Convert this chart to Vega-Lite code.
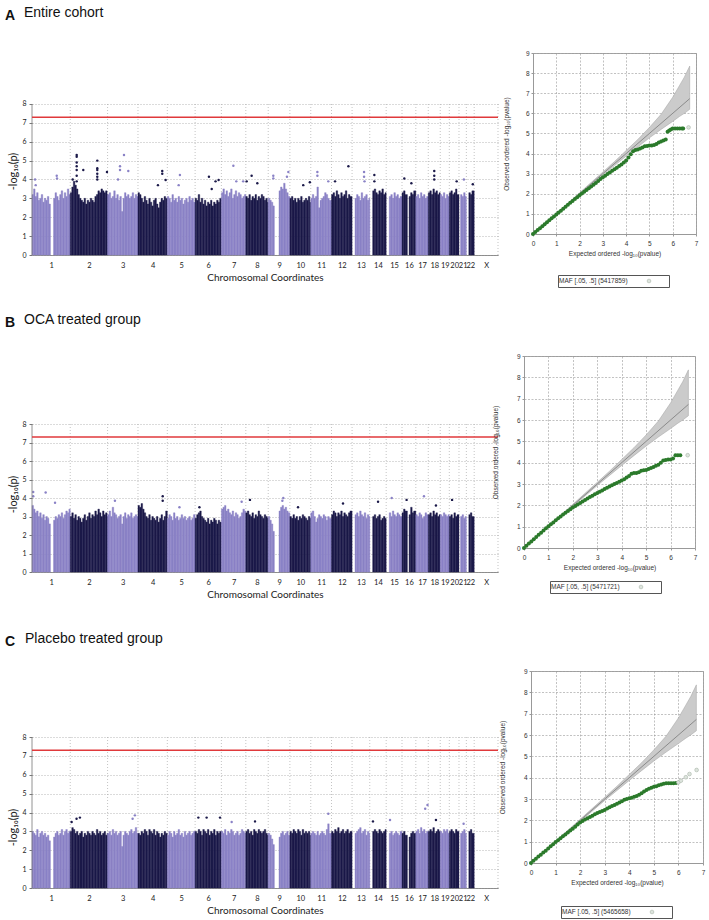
{
"$schema":"https://vega.github.io/schema/vega-lite/v6.json",
"background":"white",
"padding":{"left":5,"top":5,"right":2,"bottom":2},
"config":{"view":{"stroke":null},"font":"Liberation Sans","axis":{"labelOverlap":false}},
"datasets":{
"chr":[{"e":249},{"e":492},{"e":690},{"e":881},{"e":1062},{"e":1233},{"e":1392},{"e":1538},{"e":1679},{"e":1815},{"e":1950},{"e":2084},{"e":2199},{"e":2306},{"e":2409},{"e":2499},{"e":2580},{"e":2658},{"e":2717},{"e":2780},{"e":2828},{"e":2879},{"e":3034}],
"bins":[
{"c":1,"s":0,"e":10,"A":3.2,"B":3.6,"C":3.0},{"c":1,"s":10,"e":20,"A":3.5,"B":3.4,"C":2.9},{"c":1,"s":20,"e":30,"A":3.1,"B":3.2,"C":2.8},{"c":1,"s":30,"e":40,"A":3.3,"B":3.3,"C":3.1},{"c":1,"s":40,"e":50,"A":2.9,"B":3.0,"C":2.7},{"c":1,"s":50,"e":60,"A":3.0,"B":3.2,"C":2.9},{"c":1,"s":60,"e":70,"A":3.2,"B":2.9,"C":3.0},{"c":1,"s":70,"e":80,"A":2.8,"B":3.1,"C":2.8},{"c":1,"s":80,"e":90,"A":3.0,"B":2.8,"C":2.9},{"c":1,"s":90,"e":100,"A":2.9,"B":3.0,"C":2.7},{"c":1,"s":100,"e":110,"A":3.1,"B":2.9,"C":2.8},{"c":1,"s":110,"e":120,"A":2.7,"B":2.6,"C":2.5},{"c":1,"s":140,"e":150,"A":3.0,"B":2.8,"C":2.7},{"c":1,"s":150,"e":160,"A":3.3,"B":3.0,"C":2.9},{"c":1,"s":160,"e":170,"A":3.1,"B":2.9,"C":3.0},{"c":1,"s":170,"e":180,"A":2.9,"B":3.1,"C":2.8},{"c":1,"s":180,"e":190,"A":3.2,"B":3.0,"C":2.9},{"c":1,"s":190,"e":200,"A":3.4,"B":3.2,"C":3.1},{"c":1,"s":200,"e":210,"A":3.0,"B":2.9,"C":2.8},{"c":1,"s":210,"e":220,"A":3.3,"B":3.1,"C":3.0},{"c":1,"s":220,"e":230,"A":3.1,"B":3.3,"C":3.1},{"c":1,"s":230,"e":240,"A":3.5,"B":3.2,"C":2.9},{"c":1,"s":240,"e":249,"A":3.2,"B":3.4,"C":3.0},
{"c":2,"s":249,"e":259,"A":3.3,"B":3.0,"C":3.0},{"c":2,"s":259,"e":269,"A":3.6,"B":3.2,"C":3.2},{"c":2,"s":269,"e":279,"A":3.9,"B":2.9,"C":3.1},{"c":2,"s":279,"e":289,"A":3.7,"B":3.1,"C":2.9},{"c":2,"s":289,"e":299,"A":3.5,"B":2.8,"C":3.0},{"c":2,"s":299,"e":309,"A":3.2,"B":3.0,"C":2.8},{"c":2,"s":309,"e":319,"A":3.0,"B":2.9,"C":2.9},{"c":2,"s":319,"e":329,"A":2.9,"B":2.7,"C":3.0},{"c":2,"s":329,"e":339,"A":2.8,"B":2.9,"C":2.7},{"c":2,"s":339,"e":349,"A":3.0,"B":3.1,"C":2.9},{"c":2,"s":349,"e":359,"A":2.7,"B":2.8,"C":2.8},{"c":2,"s":359,"e":369,"A":2.9,"B":3.0,"C":3.0},{"c":2,"s":369,"e":379,"A":2.8,"B":3.2,"C":2.9},{"c":2,"s":379,"e":389,"A":3.0,"B":2.9,"C":2.8},{"c":2,"s":389,"e":399,"A":2.9,"B":3.1,"C":3.0},{"c":2,"s":399,"e":409,"A":2.8,"B":3.0,"C":2.9},{"c":2,"s":409,"e":419,"A":3.1,"B":3.3,"C":2.8},{"c":2,"s":419,"e":429,"A":3.2,"B":3.1,"C":3.1},{"c":2,"s":429,"e":439,"A":3.4,"B":3.4,"C":2.9},{"c":2,"s":439,"e":449,"A":3.3,"B":3.2,"C":3.0},{"c":2,"s":449,"e":459,"A":3.5,"B":3.0,"C":2.8},{"c":2,"s":459,"e":469,"A":3.4,"B":3.3,"C":2.9},{"c":2,"s":469,"e":479,"A":3.3,"B":3.1,"C":3.0},{"c":2,"s":479,"e":489,"A":3.4,"B":3.2,"C":2.8},{"c":2,"s":489,"e":492,"A":3.2,"B":3.0,"C":2.9},
{"c":3,"s":492,"e":502,"A":3.2,"B":3.1,"C":2.9},{"c":3,"s":502,"e":512,"A":3.3,"B":3.3,"C":3.0},{"c":3,"s":512,"e":522,"A":3.0,"B":3.0,"C":2.8},{"c":3,"s":522,"e":532,"A":3.1,"B":3.5,"C":3.1},{"c":3,"s":532,"e":542,"A":3.4,"B":3.2,"C":2.9},{"c":3,"s":542,"e":552,"A":3.0,"B":3.1,"C":3.0},{"c":3,"s":552,"e":562,"A":3.2,"B":2.9,"C":2.8},{"c":3,"s":562,"e":572,"A":2.9,"B":3.0,"C":2.9},{"c":3,"s":572,"e":582,"A":3.1,"B":3.1,"C":3.0},{"c":3,"s":582,"e":592,"A":2.3,"B":2.6,"C":2.2},{"c":3,"s":592,"e":602,"A":3.0,"B":3.0,"C":2.8},{"c":3,"s":602,"e":612,"A":3.3,"B":3.2,"C":3.0},{"c":3,"s":612,"e":622,"A":3.1,"B":2.9,"C":2.9},{"c":3,"s":622,"e":632,"A":3.2,"B":3.1,"C":2.8},{"c":3,"s":632,"e":642,"A":3.0,"B":3.0,"C":3.0},{"c":3,"s":642,"e":652,"A":3.1,"B":3.2,"C":3.1},{"c":3,"s":652,"e":662,"A":3.3,"B":2.9,"C":2.9},{"c":3,"s":662,"e":672,"A":3.0,"B":3.0,"C":3.0},{"c":3,"s":672,"e":682,"A":3.2,"B":3.1,"C":3.2},{"c":3,"s":682,"e":690,"A":3.1,"B":3.0,"C":2.9},
{"c":4,"s":690,"e":700,"A":3.3,"B":3.6,"C":2.9},{"c":4,"s":700,"e":710,"A":3.2,"B":3.5,"C":2.8},{"c":4,"s":710,"e":720,"A":3.0,"B":3.7,"C":3.0},{"c":4,"s":720,"e":730,"A":2.8,"B":3.4,"C":2.9},{"c":4,"s":730,"e":740,"A":3.1,"B":3.2,"C":3.1},{"c":4,"s":740,"e":750,"A":2.9,"B":3.0,"C":3.0},{"c":4,"s":750,"e":760,"A":2.7,"B":2.9,"C":2.8},{"c":4,"s":760,"e":770,"A":3.0,"B":3.1,"C":3.1},{"c":4,"s":770,"e":780,"A":2.8,"B":2.8,"C":3.0},{"c":4,"s":780,"e":790,"A":2.6,"B":3.0,"C":2.9},{"c":4,"s":790,"e":800,"A":2.9,"B":2.9,"C":3.1},{"c":4,"s":800,"e":810,"A":3.0,"B":2.8,"C":2.8},{"c":4,"s":810,"e":820,"A":2.7,"B":3.0,"C":3.0},{"c":4,"s":820,"e":830,"A":2.5,"B":2.7,"C":2.9},{"c":4,"s":830,"e":840,"A":2.8,"B":2.9,"C":2.7},{"c":4,"s":840,"e":850,"A":3.0,"B":3.1,"C":2.9},{"c":4,"s":850,"e":860,"A":2.9,"B":2.8,"C":2.8},{"c":4,"s":860,"e":870,"A":3.1,"B":3.0,"C":3.0},{"c":4,"s":870,"e":881,"A":3.0,"B":3.3,"C":2.9},
{"c":5,"s":881,"e":891,"A":3.1,"B":2.9,"C":2.8},{"c":5,"s":891,"e":901,"A":3.0,"B":3.1,"C":3.0},{"c":5,"s":901,"e":911,"A":2.8,"B":3.0,"C":2.9},{"c":5,"s":911,"e":921,"A":3.2,"B":2.8,"C":2.7},{"c":5,"s":921,"e":931,"A":2.9,"B":3.2,"C":3.0},{"c":5,"s":931,"e":941,"A":3.0,"B":2.9,"C":2.8},{"c":5,"s":941,"e":951,"A":2.8,"B":3.0,"C":2.9},{"c":5,"s":951,"e":961,"A":3.1,"B":2.8,"C":3.1},{"c":5,"s":961,"e":971,"A":2.9,"B":2.9,"C":2.8},{"c":5,"s":971,"e":981,"A":3.0,"B":3.1,"C":2.9},{"c":5,"s":981,"e":991,"A":2.7,"B":2.9,"C":2.7},{"c":5,"s":991,"e":1001,"A":2.9,"B":3.0,"C":3.0},{"c":5,"s":1001,"e":1011,"A":3.0,"B":2.8,"C":2.8},{"c":5,"s":1011,"e":1021,"A":2.8,"B":2.9,"C":2.9},{"c":5,"s":1021,"e":1031,"A":3.1,"B":3.0,"C":3.0},{"c":5,"s":1031,"e":1041,"A":2.9,"B":2.8,"C":2.8},{"c":5,"s":1041,"e":1051,"A":3.0,"B":2.9,"C":2.9},{"c":5,"s":1051,"e":1062,"A":2.8,"B":3.1,"C":3.0},
{"c":6,"s":1062,"e":1072,"A":3.0,"B":2.9,"C":3.0},{"c":6,"s":1072,"e":1082,"A":2.9,"B":3.1,"C":2.9},{"c":6,"s":1082,"e":1092,"A":3.2,"B":3.2,"C":3.1},{"c":6,"s":1092,"e":1102,"A":2.8,"B":3.3,"C":3.0},{"c":6,"s":1102,"e":1112,"A":3.0,"B":3.0,"C":2.8},{"c":6,"s":1112,"e":1122,"A":2.7,"B":2.9,"C":3.1},{"c":6,"s":1122,"e":1132,"A":2.9,"B":2.8,"C":3.0},{"c":6,"s":1132,"e":1142,"A":2.6,"B":2.7,"C":2.9},{"c":6,"s":1142,"e":1152,"A":2.8,"B":2.9,"C":3.1},{"c":6,"s":1152,"e":1162,"A":2.7,"B":2.6,"C":2.8},{"c":6,"s":1162,"e":1172,"A":2.9,"B":2.8,"C":3.0},{"c":6,"s":1172,"e":1182,"A":2.6,"B":2.7,"C":2.9},{"c":6,"s":1182,"e":1192,"A":2.8,"B":2.9,"C":3.1},{"c":6,"s":1192,"e":1202,"A":2.7,"B":2.8,"C":2.8},{"c":6,"s":1202,"e":1212,"A":2.9,"B":2.6,"C":3.0},{"c":6,"s":1212,"e":1222,"A":2.8,"B":2.8,"C":2.9},{"c":6,"s":1222,"e":1233,"A":3.0,"B":2.7,"C":3.0},
{"c":7,"s":1233,"e":1243,"A":3.3,"B":3.4,"C":3.0},{"c":7,"s":1243,"e":1253,"A":3.5,"B":3.5,"C":2.9},{"c":7,"s":1253,"e":1263,"A":3.2,"B":3.6,"C":3.1},{"c":7,"s":1263,"e":1273,"A":3.4,"B":3.3,"C":2.8},{"c":7,"s":1273,"e":1283,"A":3.1,"B":3.4,"C":3.0},{"c":7,"s":1283,"e":1293,"A":3.3,"B":3.2,"C":2.9},{"c":7,"s":1293,"e":1303,"A":3.5,"B":3.1,"C":3.1},{"c":7,"s":1303,"e":1313,"A":3.0,"B":3.3,"C":3.0},{"c":7,"s":1313,"e":1323,"A":3.2,"B":3.0,"C":2.8},{"c":7,"s":1323,"e":1333,"A":3.4,"B":3.2,"C":2.9},{"c":7,"s":1333,"e":1343,"A":3.1,"B":3.1,"C":3.0},{"c":7,"s":1343,"e":1353,"A":3.3,"B":2.9,"C":2.8},{"c":7,"s":1353,"e":1363,"A":3.2,"B":3.0,"C":2.9},{"c":7,"s":1363,"e":1373,"A":3.0,"B":3.2,"C":3.1},{"c":7,"s":1373,"e":1383,"A":3.1,"B":3.4,"C":3.0},{"c":7,"s":1383,"e":1392,"A":3.2,"B":3.3,"C":2.9},
{"c":8,"s":1392,"e":1402,"A":3.1,"B":3.2,"C":3.0},{"c":8,"s":1402,"e":1412,"A":3.0,"B":3.3,"C":3.1},{"c":8,"s":1412,"e":1422,"A":3.2,"B":3.1,"C":2.9},{"c":8,"s":1422,"e":1432,"A":2.9,"B":3.0,"C":3.0},{"c":8,"s":1432,"e":1442,"A":3.1,"B":3.2,"C":2.8},{"c":8,"s":1442,"e":1452,"A":3.0,"B":2.9,"C":3.1},{"c":8,"s":1452,"e":1462,"A":3.2,"B":3.1,"C":3.0},{"c":8,"s":1462,"e":1472,"A":2.9,"B":3.0,"C":2.9},{"c":8,"s":1472,"e":1482,"A":3.1,"B":3.3,"C":3.1},{"c":8,"s":1482,"e":1492,"A":3.0,"B":3.1,"C":3.0},{"c":8,"s":1492,"e":1502,"A":3.2,"B":3.0,"C":2.9},{"c":8,"s":1502,"e":1512,"A":3.1,"B":2.9,"C":3.0},{"c":8,"s":1512,"e":1522,"A":2.9,"B":3.1,"C":3.1},{"c":8,"s":1522,"e":1532,"A":3.0,"B":3.0,"C":2.9},{"c":8,"s":1532,"e":1538,"A":2.8,"B":2.9,"C":2.8},
{"c":9,"s":1538,"e":1548,"A":3.0,"B":3.0,"C":2.9},{"c":9,"s":1548,"e":1558,"A":2.9,"B":2.8,"C":2.8},{"c":9,"s":1558,"e":1568,"A":2.8,"B":2.6,"C":2.6},{"c":9,"s":1568,"e":1578,"A":2.6,"B":2.2,"C":2.3},{"c":9,"s":1608,"e":1618,"A":3.4,"B":3.3,"C":2.7},{"c":9,"s":1618,"e":1628,"A":3.6,"B":3.5,"C":2.9},{"c":9,"s":1628,"e":1638,"A":3.5,"B":3.6,"C":3.0},{"c":9,"s":1638,"e":1648,"A":3.8,"B":3.4,"C":2.8},{"c":9,"s":1648,"e":1658,"A":3.5,"B":3.5,"C":2.9},{"c":9,"s":1658,"e":1668,"A":3.3,"B":3.3,"C":3.0},{"c":9,"s":1668,"e":1679,"A":3.1,"B":3.2,"C":2.8},
{"c":10,"s":1679,"e":1689,"A":3.0,"B":3.0,"C":3.0},{"c":10,"s":1689,"e":1699,"A":3.1,"B":2.9,"C":2.9},{"c":10,"s":1699,"e":1709,"A":2.9,"B":3.1,"C":3.1},{"c":10,"s":1709,"e":1719,"A":3.0,"B":2.9,"C":3.0},{"c":10,"s":1719,"e":1729,"A":2.8,"B":3.0,"C":2.9},{"c":10,"s":1729,"e":1739,"A":3.0,"B":2.8,"C":3.1},{"c":10,"s":1739,"e":1749,"A":2.9,"B":3.0,"C":3.0},{"c":10,"s":1749,"e":1759,"A":3.1,"B":2.9,"C":2.8},{"c":10,"s":1759,"e":1769,"A":2.8,"B":3.1,"C":3.1},{"c":10,"s":1769,"e":1779,"A":2.9,"B":3.0,"C":2.9},{"c":10,"s":1779,"e":1789,"A":3.0,"B":2.9,"C":3.0},{"c":10,"s":1789,"e":1799,"A":2.9,"B":2.8,"C":2.9},{"c":10,"s":1799,"e":1809,"A":3.1,"B":3.0,"C":3.0},{"c":10,"s":1809,"e":1815,"A":2.8,"B":2.9,"C":2.8},
{"c":11,"s":1815,"e":1825,"A":3.0,"B":3.2,"C":2.9},{"c":11,"s":1825,"e":1835,"A":3.2,"B":3.3,"C":3.0},{"c":11,"s":1835,"e":1845,"A":3.0,"B":3.0,"C":2.9},{"c":11,"s":1845,"e":1855,"A":3.1,"B":2.7,"C":2.8},{"c":11,"s":1855,"e":1865,"A":3.6,"B":2.9,"C":3.0},{"c":11,"s":1865,"e":1875,"A":2.5,"B":3.1,"C":2.8},{"c":11,"s":1875,"e":1885,"A":2.9,"B":3.0,"C":2.9},{"c":11,"s":1885,"e":1895,"A":3.0,"B":2.9,"C":3.0},{"c":11,"s":1895,"e":1905,"A":3.1,"B":3.1,"C":2.9},{"c":11,"s":1905,"e":1915,"A":3.3,"B":3.0,"C":2.8},{"c":11,"s":1915,"e":1925,"A":3.2,"B":2.8,"C":3.1},{"c":11,"s":1925,"e":1935,"A":3.0,"B":3.0,"C":3.4},{"c":11,"s":1935,"e":1950,"A":2.9,"B":2.9,"C":2.9},
{"c":12,"s":1950,"e":1960,"A":3.2,"B":3.1,"C":3.0},{"c":12,"s":1960,"e":1970,"A":3.3,"B":3.3,"C":2.9},{"c":12,"s":1970,"e":1980,"A":3.1,"B":3.2,"C":3.1},{"c":12,"s":1980,"e":1990,"A":3.4,"B":3.0,"C":3.0},{"c":12,"s":1990,"e":2000,"A":3.2,"B":3.2,"C":3.2},{"c":12,"s":2000,"e":2010,"A":3.0,"B":3.1,"C":2.9},{"c":12,"s":2010,"e":2020,"A":3.3,"B":3.3,"C":3.0},{"c":12,"s":2020,"e":2030,"A":3.1,"B":3.0,"C":3.1},{"c":12,"s":2030,"e":2040,"A":3.2,"B":3.2,"C":2.9},{"c":12,"s":2040,"e":2050,"A":3.4,"B":3.1,"C":3.0},{"c":12,"s":2050,"e":2060,"A":3.0,"B":3.0,"C":3.1},{"c":12,"s":2060,"e":2070,"A":3.2,"B":3.2,"C":2.9},{"c":12,"s":2070,"e":2084,"A":3.1,"B":3.3,"C":3.0},
{"c":13,"s":2103,"e":2113,"A":3.0,"B":3.1,"C":2.9},{"c":13,"s":2113,"e":2123,"A":3.2,"B":3.2,"C":3.0},{"c":13,"s":2123,"e":2133,"A":3.1,"B":3.0,"C":3.1},{"c":13,"s":2133,"e":2143,"A":2.9,"B":3.3,"C":3.2},{"c":13,"s":2143,"e":2153,"A":3.3,"B":3.1,"C":2.9},{"c":13,"s":2153,"e":2163,"A":3.0,"B":3.0,"C":3.0},{"c":13,"s":2163,"e":2173,"A":3.1,"B":3.2,"C":3.1},{"c":13,"s":2173,"e":2183,"A":3.2,"B":2.9,"C":2.8},{"c":13,"s":2183,"e":2193,"A":2.9,"B":3.1,"C":3.0},{"c":13,"s":2193,"e":2199,"A":3.0,"B":3.0,"C":2.9},
{"c":14,"s":2218,"e":2228,"A":3.4,"B":3.0,"C":3.0},{"c":14,"s":2228,"e":2238,"A":3.5,"B":3.1,"C":3.1},{"c":14,"s":2238,"e":2248,"A":3.3,"B":2.9,"C":3.0},{"c":14,"s":2248,"e":2258,"A":3.2,"B":3.0,"C":2.9},{"c":14,"s":2258,"e":2268,"A":3.4,"B":3.1,"C":3.1},{"c":14,"s":2268,"e":2278,"A":3.3,"B":2.8,"C":3.0},{"c":14,"s":2278,"e":2288,"A":3.5,"B":2.9,"C":2.9},{"c":14,"s":2288,"e":2298,"A":3.2,"B":3.0,"C":3.0},{"c":14,"s":2298,"e":2306,"A":3.3,"B":2.9,"C":3.1},
{"c":15,"s":2326,"e":2336,"A":3.1,"B":3.2,"C":2.9},{"c":15,"s":2336,"e":2346,"A":3.2,"B":3.0,"C":3.0},{"c":15,"s":2346,"e":2356,"A":3.0,"B":3.3,"C":2.8},{"c":15,"s":2356,"e":2366,"A":3.3,"B":3.1,"C":2.9},{"c":15,"s":2366,"e":2376,"A":3.1,"B":3.0,"C":3.0},{"c":15,"s":2376,"e":2386,"A":3.2,"B":3.2,"C":2.9},{"c":15,"s":2386,"e":2396,"A":3.0,"B":3.1,"C":2.8},{"c":15,"s":2396,"e":2409,"A":3.1,"B":3.0,"C":3.0},
{"c":16,"s":2409,"e":2419,"A":3.3,"B":3.2,"C":2.9},{"c":16,"s":2419,"e":2429,"A":3.4,"B":3.4,"C":3.0},{"c":16,"s":2429,"e":2444,"A":3.2,"B":3.3,"C":2.8},{"c":16,"s":2455,"e":2465,"A":3.1,"B":3.1,"C":2.7},{"c":16,"s":2465,"e":2475,"A":3.3,"B":3.5,"C":2.9},{"c":16,"s":2475,"e":2485,"A":3.2,"B":3.2,"C":3.0},{"c":16,"s":2485,"e":2499,"A":3.4,"B":3.3,"C":2.9},
{"c":17,"s":2499,"e":2509,"A":3.1,"B":3.1,"C":3.0},{"c":17,"s":2509,"e":2519,"A":3.2,"B":3.0,"C":3.1},{"c":17,"s":2519,"e":2529,"A":3.0,"B":3.2,"C":2.9},{"c":17,"s":2529,"e":2539,"A":3.3,"B":3.1,"C":3.2},{"c":17,"s":2539,"e":2549,"A":3.1,"B":2.9,"C":3.0},{"c":17,"s":2549,"e":2559,"A":3.2,"B":3.0,"C":3.1},{"c":17,"s":2559,"e":2569,"A":3.0,"B":3.2,"C":2.9},{"c":17,"s":2569,"e":2580,"A":3.1,"B":3.1,"C":3.0},
{"c":18,"s":2580,"e":2590,"A":3.3,"B":3.1,"C":3.0},{"c":18,"s":2590,"e":2600,"A":3.4,"B":3.2,"C":3.1},{"c":18,"s":2600,"e":2610,"A":3.2,"B":3.0,"C":3.0},{"c":18,"s":2610,"e":2620,"A":3.5,"B":3.3,"C":3.2},{"c":18,"s":2620,"e":2630,"A":3.3,"B":3.1,"C":2.9},{"c":18,"s":2630,"e":2640,"A":3.4,"B":3.2,"C":3.0},{"c":18,"s":2640,"e":2650,"A":3.2,"B":3.0,"C":3.1},{"c":18,"s":2650,"e":2658,"A":3.3,"B":3.1,"C":3.0},
{"c":19,"s":2658,"e":2668,"A":3.2,"B":3.1,"C":3.0},{"c":19,"s":2668,"e":2678,"A":3.1,"B":3.0,"C":2.9},{"c":19,"s":2678,"e":2688,"A":3.3,"B":3.2,"C":3.1},{"c":19,"s":2688,"e":2698,"A":3.0,"B":3.1,"C":3.0},{"c":19,"s":2698,"e":2708,"A":3.2,"B":3.0,"C":3.1},{"c":19,"s":2708,"e":2717,"A":3.1,"B":3.1,"C":2.9},
{"c":20,"s":2717,"e":2727,"A":3.3,"B":3.0,"C":3.0},{"c":20,"s":2727,"e":2737,"A":3.4,"B":3.1,"C":3.1},{"c":20,"s":2737,"e":2747,"A":3.2,"B":2.9,"C":3.0},{"c":20,"s":2747,"e":2757,"A":3.3,"B":3.2,"C":2.9},{"c":20,"s":2757,"e":2767,"A":3.5,"B":3.0,"C":3.1},{"c":20,"s":2767,"e":2780,"A":3.2,"B":3.1,"C":3.0},
{"c":21,"s":2790,"e":2800,"A":3.2,"B":3.0,"C":2.9},{"c":21,"s":2800,"e":2810,"A":3.1,"B":3.1,"C":3.0},{"c":21,"s":2810,"e":2820,"A":3.3,"B":2.9,"C":3.1},{"c":21,"s":2820,"e":2828,"A":3.1,"B":3.0,"C":2.9},
{"c":22,"s":2844,"e":2854,"A":3.3,"B":3.1,"C":3.0},{"c":22,"s":2854,"e":2864,"A":3.2,"B":3.2,"C":3.1},{"c":22,"s":2864,"e":2879,"A":3.4,"B":3.0,"C":2.9}
],
"hits":[
{"p":"A","x":20,"v":4.0,"c":1},{"p":"A","x":24,"v":3.7,"c":1},{"p":"A","x":161,"v":4.2,"c":1},{"p":"A","x":163,"v":4.05,"c":1},
{"p":"A","x":291,"v":5.3,"c":2},{"p":"A","x":291,"v":5.2,"c":2},{"p":"A","x":291,"v":4.9,"c":2},{"p":"A","x":291,"v":4.7,"c":2},{"p":"A","x":291,"v":4.5,"c":2},{"p":"A","x":291,"v":4.2,"c":2},{"p":"A","x":291,"v":3.9,"c":2},{"p":"A","x":265,"v":4.0,"c":2},{"p":"A","x":334,"v":4.5,"c":2},{"p":"A","x":425,"v":5.0,"c":2},{"p":"A","x":425,"v":4.6,"c":2},{"p":"A","x":425,"v":4.5,"c":2},{"p":"A","x":425,"v":4.3,"c":2},{"p":"A","x":425,"v":4.15,"c":2},{"p":"A","x":425,"v":4.0,"c":2},{"p":"A","x":488,"v":4.4,"c":2},
{"p":"A","x":573,"v":4.7,"c":3},{"p":"A","x":573,"v":4.5,"c":3},{"p":"A","x":599,"v":5.3,"c":3},{"p":"A","x":627,"v":4.45,"c":3},{"p":"A","x":560,"v":4.0,"c":3},
{"p":"A","x":848,"v":4.45,"c":4},{"p":"A","x":848,"v":4.3,"c":4},{"p":"A","x":820,"v":3.7,"c":4},{"p":"A","x":870,"v":3.97,"c":4},
{"p":"A","x":963,"v":4.24,"c":5},{"p":"A","x":955,"v":3.7,"c":5},
{"p":"A","x":1152,"v":4.15,"c":6},{"p":"A","x":1170,"v":3.5,"c":6},{"p":"A","x":1195,"v":3.9,"c":6},{"p":"A","x":1215,"v":3.97,"c":6},
{"p":"A","x":1311,"v":4.73,"c":7},{"p":"A","x":1330,"v":3.9,"c":7},{"p":"A","x":1375,"v":3.9,"c":7},
{"p":"A","x":1430,"v":4.2,"c":8},{"p":"A","x":1398,"v":3.9,"c":8},{"p":"A","x":1467,"v":3.8,"c":8},
{"p":"A","x":1571,"v":4.2,"c":9},{"p":"A","x":1571,"v":4.06,"c":9},{"p":"A","x":1669,"v":4.4,"c":9},{"p":"A","x":1660,"v":4.15,"c":9},
{"p":"A","x":1766,"v":3.7,"c":10},{"p":"A","x":1809,"v":3.85,"c":10},
{"p":"A","x":1858,"v":4.4,"c":11},{"p":"A","x":1858,"v":4.2,"c":11},{"p":"A","x":1929,"v":3.9,"c":11},
{"p":"A","x":1973,"v":3.9,"c":12},{"p":"A","x":2060,"v":4.7,"c":12},
{"p":"A","x":2162,"v":4.4,"c":13},{"p":"A","x":2162,"v":4.15,"c":13},{"p":"A","x":2165,"v":3.9,"c":13},
{"p":"A","x":2229,"v":4.24,"c":14},{"p":"A","x":2229,"v":3.9,"c":14},
{"p":"A","x":2424,"v":4.05,"c":16},{"p":"A","x":2470,"v":3.8,"c":16},
{"p":"A","x":2619,"v":4.45,"c":18},{"p":"A","x":2619,"v":4.2,"c":18},{"p":"A","x":2619,"v":4.0,"c":18},
{"p":"A","x":2765,"v":3.9,"c":20},{"p":"A","x":2812,"v":4.0,"c":21},{"p":"A","x":2870,"v":3.75,"c":22},
{"p":"B","x":8,"v":4.33,"c":1},{"p":"B","x":8,"v":4.1,"c":1},{"p":"B","x":89,"v":4.3,"c":1},{"p":"B","x":150,"v":3.75,"c":1},{"p":"B","x":540,"v":3.85,"c":3},{"p":"B","x":851,"v":4.1,"c":4},{"p":"B","x":851,"v":3.85,"c":4},{"p":"B","x":960,"v":3.5,"c":5},{"p":"B","x":1090,"v":3.5,"c":6},{"p":"B","x":1365,"v":3.8,"c":7},{"p":"B","x":1419,"v":3.9,"c":8},{"p":"B","x":1636,"v":4.0,"c":9},{"p":"B","x":1630,"v":3.85,"c":9},{"p":"B","x":1732,"v":3.5,"c":10},{"p":"B","x":2025,"v":3.7,"c":12},{"p":"B","x":2253,"v":3.8,"c":14},{"p":"B","x":2342,"v":4.0,"c":15},{"p":"B","x":2439,"v":3.9,"c":16},{"p":"B","x":2552,"v":4.1,"c":17},{"p":"B","x":2630,"v":3.6,"c":18},{"p":"B","x":2735,"v":3.9,"c":20},
{"p":"C","x":312,"v":3.73,"c":2},{"p":"C","x":290,"v":3.67,"c":2},{"p":"C","x":258,"v":3.5,"c":2},{"p":"C","x":670,"v":3.85,"c":3},{"p":"C","x":655,"v":3.67,"c":3},{"p":"C","x":1083,"v":3.73,"c":6},{"p":"C","x":1137,"v":3.73,"c":6},{"p":"C","x":1224,"v":3.73,"c":6},{"p":"C","x":1300,"v":3.5,"c":7},{"p":"C","x":1452,"v":3.53,"c":8},{"p":"C","x":1929,"v":3.94,"c":11},{"p":"C","x":2220,"v":3.53,"c":14},{"p":"C","x":2331,"v":3.6,"c":15},{"p":"C","x":2560,"v":4.2,"c":17},{"p":"C","x":2575,"v":4.4,"c":17},{"p":"C","x":2630,"v":3.6,"c":18},{"p":"C","x":2810,"v":3.4,"c":21}
],
"band":[{"x":1.0,"lo":0.98,"hi":1.02},{"x":2,"lo":1.95,"hi":2.05},{"x":3,"lo":2.93,"hi":3.08},{"x":3.5,"lo":3.4,"hi":3.6},{"x":4,"lo":3.87,"hi":4.15},{"x":4.5,"lo":4.33,"hi":4.7},{"x":5,"lo":4.78,"hi":5.3},{"x":5.5,"lo":5.2,"hi":5.95},{"x":6,"lo":5.6,"hi":6.8},{"x":6.3,"lo":5.85,"hi":7.4},{"x":6.5,"lo":6.0,"hi":7.8},{"x":6.73,"lo":6.2,"hi":8.35}],
"diag":[{"x":0,"y":0},{"x":6.73,"y":6.73}],
"qq":[
{"p":"A","x":0,"y":0},{"p":"A","x":0.1,"y":0.1},{"p":"A","x":0.2,"y":0.2},{"p":"A","x":0.3,"y":0.29},{"p":"A","x":0.4,"y":0.39},{"p":"A","x":0.5,"y":0.49},{"p":"A","x":0.6,"y":0.58},{"p":"A","x":0.7,"y":0.68},{"p":"A","x":0.8,"y":0.78},{"p":"A","x":0.9,"y":0.87},{"p":"A","x":1.0,"y":0.97},{"p":"A","x":1.1,"y":1.07},{"p":"A","x":1.2,"y":1.16},{"p":"A","x":1.3,"y":1.26},{"p":"A","x":1.4,"y":1.35},{"p":"A","x":1.5,"y":1.45},{"p":"A","x":1.6,"y":1.55},{"p":"A","x":1.7,"y":1.64},{"p":"A","x":1.8,"y":1.74},{"p":"A","x":1.9,"y":1.83},{"p":"A","x":2.0,"y":1.93},{"p":"A","x":2.1,"y":2.01},{"p":"A","x":2.2,"y":2.1},{"p":"A","x":2.3,"y":2.19},{"p":"A","x":2.4,"y":2.27},{"p":"A","x":2.5,"y":2.36},{"p":"A","x":2.6,"y":2.45},{"p":"A","x":2.7,"y":2.54},{"p":"A","x":2.8,"y":2.63},{"p":"A","x":2.9,"y":2.73},{"p":"A","x":3.0,"y":2.82},{"p":"A","x":3.1,"y":2.9},{"p":"A","x":3.2,"y":2.98},{"p":"A","x":3.3,"y":3.06},{"p":"A","x":3.4,"y":3.15},{"p":"A","x":3.5,"y":3.22},{"p":"A","x":3.6,"y":3.3},{"p":"A","x":3.7,"y":3.38},{"p":"A","x":3.8,"y":3.46},{"p":"A","x":3.9,"y":3.55},{"p":"A","x":4.0,"y":3.65},{"p":"A","x":4.1,"y":3.8},{"p":"A","x":4.2,"y":3.97},{"p":"A","x":4.3,"y":4.12},{"p":"A","x":4.4,"y":4.18},{"p":"A","x":4.5,"y":4.2},{"p":"A","x":4.6,"y":4.25},{"p":"A","x":4.7,"y":4.3},{"p":"A","x":4.8,"y":4.36},{"p":"A","x":4.9,"y":4.38},{"p":"A","x":5.0,"y":4.4},{"p":"A","x":5.1,"y":4.4},{"p":"A","x":5.2,"y":4.42},{"p":"A","x":5.3,"y":4.48},{"p":"A","x":5.4,"y":4.55},{"p":"A","x":5.5,"y":4.6},{"p":"A","x":5.6,"y":4.65},{"p":"A","x":5.7,"y":4.7},{"p":"A","x":5.78,"y":5.08},{"p":"A","x":5.85,"y":5.15},{"p":"A","x":5.92,"y":5.2},{"p":"A","x":6.0,"y":5.25},{"p":"A","x":6.1,"y":5.25},{"p":"A","x":6.2,"y":5.25},{"p":"A","x":6.3,"y":5.25},{"p":"A","x":6.4,"y":5.25},{"p":"A","x":6.45,"y":5.25},
{"p":"A","x":6.68,"y":5.3,"lab":"MAF [.05, .5] (5417859)"},
{"p":"B","x":0,"y":0},{"p":"B","x":0.1,"y":0.1},{"p":"B","x":0.2,"y":0.21},{"p":"B","x":0.3,"y":0.31},{"p":"B","x":0.4,"y":0.41},{"p":"B","x":0.5,"y":0.52},{"p":"B","x":0.6,"y":0.62},{"p":"B","x":0.7,"y":0.72},{"p":"B","x":0.8,"y":0.82},{"p":"B","x":0.9,"y":0.92},{"p":"B","x":1.0,"y":1.02},{"p":"B","x":1.1,"y":1.11},{"p":"B","x":1.2,"y":1.2},{"p":"B","x":1.3,"y":1.3},{"p":"B","x":1.4,"y":1.39},{"p":"B","x":1.5,"y":1.48},{"p":"B","x":1.6,"y":1.57},{"p":"B","x":1.7,"y":1.65},{"p":"B","x":1.8,"y":1.74},{"p":"B","x":1.9,"y":1.82},{"p":"B","x":2.0,"y":1.9},{"p":"B","x":2.1,"y":1.97},{"p":"B","x":2.2,"y":2.04},{"p":"B","x":2.3,"y":2.11},{"p":"B","x":2.4,"y":2.18},{"p":"B","x":2.5,"y":2.25},{"p":"B","x":2.6,"y":2.32},{"p":"B","x":2.7,"y":2.39},{"p":"B","x":2.8,"y":2.45},{"p":"B","x":2.9,"y":2.52},{"p":"B","x":3.0,"y":2.58},{"p":"B","x":3.1,"y":2.64},{"p":"B","x":3.2,"y":2.7},{"p":"B","x":3.3,"y":2.76},{"p":"B","x":3.4,"y":2.82},{"p":"B","x":3.5,"y":2.88},{"p":"B","x":3.6,"y":2.94},{"p":"B","x":3.7,"y":3.0},{"p":"B","x":3.8,"y":3.05},{"p":"B","x":3.9,"y":3.1},{"p":"B","x":4.0,"y":3.16},{"p":"B","x":4.1,"y":3.22},{"p":"B","x":4.2,"y":3.3},{"p":"B","x":4.3,"y":3.38},{"p":"B","x":4.4,"y":3.48},{"p":"B","x":4.5,"y":3.52},{"p":"B","x":4.6,"y":3.52},{"p":"B","x":4.7,"y":3.55},{"p":"B","x":4.8,"y":3.62},{"p":"B","x":4.9,"y":3.65},{"p":"B","x":5.0,"y":3.66},{"p":"B","x":5.1,"y":3.7},{"p":"B","x":5.2,"y":3.75},{"p":"B","x":5.3,"y":3.8},{"p":"B","x":5.4,"y":3.85},{"p":"B","x":5.5,"y":3.9},{"p":"B","x":5.6,"y":4.0},{"p":"B","x":5.7,"y":4.1},{"p":"B","x":5.8,"y":4.12},{"p":"B","x":5.9,"y":4.15},{"p":"B","x":6.0,"y":4.15},{"p":"B","x":6.1,"y":4.2},{"p":"B","x":6.2,"y":4.35},{"p":"B","x":6.3,"y":4.35},{"p":"B","x":6.4,"y":4.35},
{"p":"B","x":6.7,"y":4.35,"lab":"MAF [.05, .5] (5471721)"},
{"p":"C","x":0,"y":0},{"p":"C","x":0.1,"y":0.1},{"p":"C","x":0.2,"y":0.2},{"p":"C","x":0.3,"y":0.3},{"p":"C","x":0.4,"y":0.39},{"p":"C","x":0.5,"y":0.49},{"p":"C","x":0.6,"y":0.58},{"p":"C","x":0.7,"y":0.68},{"p":"C","x":0.8,"y":0.78},{"p":"C","x":0.9,"y":0.88},{"p":"C","x":1.0,"y":0.98},{"p":"C","x":1.1,"y":1.07},{"p":"C","x":1.2,"y":1.16},{"p":"C","x":1.3,"y":1.25},{"p":"C","x":1.4,"y":1.34},{"p":"C","x":1.5,"y":1.43},{"p":"C","x":1.6,"y":1.52},{"p":"C","x":1.7,"y":1.61},{"p":"C","x":1.8,"y":1.7},{"p":"C","x":1.9,"y":1.8},{"p":"C","x":2.0,"y":1.9},{"p":"C","x":2.1,"y":1.97},{"p":"C","x":2.2,"y":2.04},{"p":"C","x":2.3,"y":2.1},{"p":"C","x":2.4,"y":2.16},{"p":"C","x":2.5,"y":2.22},{"p":"C","x":2.6,"y":2.28},{"p":"C","x":2.7,"y":2.34},{"p":"C","x":2.8,"y":2.39},{"p":"C","x":2.9,"y":2.44},{"p":"C","x":3.0,"y":2.49},{"p":"C","x":3.1,"y":2.55},{"p":"C","x":3.2,"y":2.61},{"p":"C","x":3.3,"y":2.67},{"p":"C","x":3.4,"y":2.72},{"p":"C","x":3.5,"y":2.78},{"p":"C","x":3.6,"y":2.84},{"p":"C","x":3.7,"y":2.9},{"p":"C","x":3.8,"y":2.96},{"p":"C","x":3.9,"y":3.0},{"p":"C","x":4.0,"y":3.03},{"p":"C","x":4.1,"y":3.06},{"p":"C","x":4.2,"y":3.1},{"p":"C","x":4.3,"y":3.14},{"p":"C","x":4.4,"y":3.2},{"p":"C","x":4.5,"y":3.27},{"p":"C","x":4.6,"y":3.35},{"p":"C","x":4.7,"y":3.42},{"p":"C","x":4.8,"y":3.48},{"p":"C","x":4.9,"y":3.53},{"p":"C","x":5.0,"y":3.57},{"p":"C","x":5.1,"y":3.6},{"p":"C","x":5.2,"y":3.64},{"p":"C","x":5.3,"y":3.68},{"p":"C","x":5.4,"y":3.72},{"p":"C","x":5.5,"y":3.74},{"p":"C","x":5.6,"y":3.74},{"p":"C","x":5.7,"y":3.74},{"p":"C","x":5.8,"y":3.74},{"p":"C","x":5.9,"y":3.75},
{"p":"C","x":6.0,"y":3.78,"lab":"MAF [.05, .5] (5465658)"},{"p":"C","x":6.1,"y":3.86,"lab":"MAF [.05, .5] (5465658)"},{"p":"C","x":6.3,"y":4.02,"lab":"MAF [.05, .5] (5465658)"},{"p":"C","x":6.45,"y":4.17,"lab":"MAF [.05, .5] (5465658)"},{"p":"C","x":6.74,"y":4.36,"lab":"MAF [.05, .5] (5465658)"}
]
},
"spacing":24,
"resolve":{"scale":{"color":"independent","stroke":"independent"},"legend":{"color":"independent"}},
"vconcat":[
{
"spacing":35,"bounds":"flush",
"resolve":{"scale":{"color":"independent","stroke":"independent"},"legend":{"color":"independent"}},
"hconcat":[
{
"width":466,"height":202,
"title":{"text":"A","anchor":"start","frame":"group","dx":-27,"offset":30,"fontSize":14,"fontWeight":"bold","font":"Liberation Sans","color":"#111"},
"layer":[
{"data":{"name":"chr"},"mark":{"type":"rule","stroke":"#aaaaaa","strokeDash":[1,2],"strokeWidth":0.7},
 "encoding":{"x":{"field":"e","type":"quantitative"},"y":{"datum":0,"type":"quantitative"},"y2":{"datum":8}}},
{"data":{"name":"bins"},"mark":{"type":"rect","strokeWidth":0.4},
 "encoding":{
  "x":{"field":"s","type":"quantitative","scale":{"domain":[0,3034],"nice":false,"zero":false},
   "axis":{"values":[124.5,370.5,591,785.5,971.5,1147.5,1312.5,1465,1608.5,1747,1882.5,2017,2141.5,2252.5,2357.5,2454,2539.5,2619,2687.5,2748.5,2804,2853.5,2956.5],"tickCount":40,"labelExpr":"['1','2','3','4','5','6','7','8','9','10','11','12','13','14','15','16','17','18','19','20','21','22','X'][indexof([124.5,370.5,591,785.5,971.5,1147.5,1312.5,1465,1608.5,1747,1882.5,2017,2141.5,2252.5,2357.5,2454,2539.5,2619,2687.5,2748.5,2804,2853.5,2956.5], datum.value)]","grid":false,"ticks":false,"domainColor":"#777777","domainWidth":0.8,"labelFont":"Lato","labelFontSize":7.5,"labelColor":"#222222","labelPadding":6,"labelOverlap":false,"labelFlush":false,"labelBound":false,"title":"Chromosomal Coordinates","titleFont":"Lato","titleFontSize":10,"titleFontWeight":"normal","titleColor":"#222222","titlePadding":4}},
  "x2":{"field":"e"},
  "y":{"field":"A","type":"quantitative","scale":{"domain":[0,10.7],"nice":false,"zero":false},
   "axis":{"values":[0,1,2,3,4,5,6,7,8],"tickCount":40,"format":"d","grid":true,"gridDash":[1,2],"gridColor":"#999999","gridWidth":0.7,"domain":false,"tickSize":3,"tickColor":"#777777","labelFont":"Lato","labelFontSize":7,"labelColor":"#222222","labelPadding":3,"title":"-log₁₀(p)","titleFont":"Lato","titleFontSize":11,"titleFontWeight":"normal","titleColor":"#222222","titlePadding":3,"titleY":118}},
  "y2":{"datum":0},
  "color":{"field":"c","type":"ordinal","scale":{"domain":[1,2,3,4,5,6,7,8,9,10,11,12,13,14,15,16,17,18,19,20,21,22],"range":["#8a82c6","#1b1949","#8a82c6","#1b1949","#8a82c6","#1b1949","#8a82c6","#1b1949","#8a82c6","#1b1949","#8a82c6","#1b1949","#8a82c6","#1b1949","#8a82c6","#1b1949","#8a82c6","#1b1949","#8a82c6","#1b1949","#8a82c6","#1b1949"]},"legend":null},
  "stroke":{"field":"c","type":"ordinal","scale":{"domain":[1,2,3,4,5,6,7,8,9,10,11,12,13,14,15,16,17,18,19,20,21,22],"range":["#8a82c6","#1b1949","#8a82c6","#1b1949","#8a82c6","#1b1949","#8a82c6","#1b1949","#8a82c6","#1b1949","#8a82c6","#1b1949","#8a82c6","#1b1949","#8a82c6","#1b1949","#8a82c6","#1b1949","#8a82c6","#1b1949","#8a82c6","#1b1949"]},"legend":null}}},
{"data":{"name":"hits"},"transform":[{"filter":"datum.p == 'A'"}],"mark":{"type":"circle","size":6,"opacity":1},
 "encoding":{"x":{"field":"x","type":"quantitative"},"y":{"field":"v","type":"quantitative"},"color":{"field":"c","type":"ordinal","legend":null}}},
{"data":{"values":[{}]},"mark":{"type":"rule","stroke":"#777777","strokeWidth":0.8},"encoding":{"x":{"datum":0,"type":"quantitative"},"y":{"datum":0,"type":"quantitative"},"y2":{"datum":8}}},
{"data":{"values":[{}]},"mark":{"type":"rule","stroke":"#e0393b","strokeWidth":1.4},"encoding":{"y":{"datum":7.3,"type":"quantitative"}}}
]
},
{
"width":163,"height":181,"view":{"stroke":"#a6a6a6"},
"title":{"text":"Entire cohort","anchor":"start","frame":"group","dx":-509,"offset":30,"fontSize":14,"fontWeight":"normal","font":"Liberation Sans","color":"#111"},
"layer":[
{"data":{"name":"band"},"mark":{"type":"area","fill":"#cbcbcb","stroke":"#a0a0a0","strokeWidth":0.5},
 "encoding":{"x":{"field":"x","type":"quantitative","scale":{"domain":[0,7],"nice":false},"axis":{"values":[0,1,2,3,4,5,6,7],"tickCount":40,"format":"d","grid":true,"gridDash":[2,1.5],"gridColor":"#999999","gridWidth":0.6,"domainColor":"#999999","tickSize":2,"tickColor":"#999999","labelFontSize":6.5,"labelColor":"#333333","labelPadding":4,"labelFlush":false,"labelOverlap":false,"title":"Expected ordered -log₁₀(pvalue)","titleFontSize":6.5,"titleFontWeight":"normal","titleColor":"#333333","titlePadding":4}},
  "y":{"field":"lo","type":"quantitative","scale":{"domain":[0,9],"nice":false},"axis":{"values":[0,1,2,3,4,5,6,7,8,9],"tickCount":40,"format":"d","grid":true,"gridDash":[2,1.5],"gridColor":"#999999","gridWidth":0.6,"domainColor":"#999999","tickSize":2,"tickColor":"#999999","labelFontSize":6.5,"labelColor":"#333333","labelPadding":2,"labelFlush":false,"labelOverlap":false,"title":"Observed ordered -log₁₀(pvalue)","titleFontSize":6.5,"titleFontWeight":"normal","titleColor":"#333333","titlePadding":16}},
  "y2":{"field":"hi"}}},
{"data":{"name":"diag"},"mark":{"type":"line","color":"#7a7a7a","strokeWidth":0.8},"encoding":{"x":{"field":"x","type":"quantitative"},"y":{"field":"y","type":"quantitative"}}},
{"data":{"name":"qq"},"transform":[{"filter":"datum.p == 'A' && !datum.lab"}],"mark":{"type":"circle","color":"#2b7a2b","size":16,"opacity":1},"encoding":{"x":{"field":"x","type":"quantitative"},"y":{"field":"y","type":"quantitative"}}},
{"data":{"name":"qq"},"transform":[{"filter":"datum.p == 'A' && datum.lab"}],"mark":{"type":"circle","size":14,"opacity":1,"stroke":"#a9b5a9","strokeWidth":0.6},
 "encoding":{"x":{"field":"x","type":"quantitative"},"y":{"field":"y","type":"quantitative"},
  "color":{"field":"lab","type":"nominal","scale":{"range":["#dde4dd"]},"legend":{"orient":"none","legendX":25,"legendY":222,"titleOrient":"left","titleFontSize":6.5,"titleFontWeight":"normal","titleColor":"#333333","titlePadding":16,"labelExpr":"''","labelOffset":14,"symbolType":"circle","symbolSize":14,"symbolStrokeColor":"#a9b5a9","symbolStrokeWidth":0.6,"padding":1,"strokeColor":"#555555","fillColor":"white"},"title":"MAF [.05, .5] (5417859)"}}}
]
}
]
},
{
"spacing":31,
"resolve":{"scale":{"color":"independent","stroke":"independent"},"legend":{"color":"independent"}},
"vconcat":[
{
"spacing":26,"bounds":"flush",
"resolve":{"scale":{"color":"independent","stroke":"independent"},"legend":{"color":"independent"}},
"hconcat":[
{
"width":466,"height":216,
"title":{"text":"B","anchor":"start","frame":"group","dx":-27,"offset":26,"fontSize":14,"fontWeight":"bold","font":"Liberation Sans","color":"#111"},
"layer":[
{"data":{"name":"chr"},"mark":{"type":"rule","stroke":"#aaaaaa","strokeDash":[1,2],"strokeWidth":0.7},
 "encoding":{"x":{"field":"e","type":"quantitative"},"y":{"datum":0,"type":"quantitative"},"y2":{"datum":8}}},
{"data":{"name":"bins"},"mark":{"type":"rect","strokeWidth":0.4},
 "encoding":{
  "x":{"field":"s","type":"quantitative","scale":{"domain":[0,3034],"nice":false,"zero":false},
   "axis":{"values":[124.5,370.5,591,785.5,971.5,1147.5,1312.5,1465,1608.5,1747,1882.5,2017,2141.5,2252.5,2357.5,2454,2539.5,2619,2687.5,2748.5,2804,2853.5,2956.5],"tickCount":40,"labelExpr":"['1','2','3','4','5','6','7','8','9','10','11','12','13','14','15','16','17','18','19','20','21','22','X'][indexof([124.5,370.5,591,785.5,971.5,1147.5,1312.5,1465,1608.5,1747,1882.5,2017,2141.5,2252.5,2357.5,2454,2539.5,2619,2687.5,2748.5,2804,2853.5,2956.5], datum.value)]","grid":false,"ticks":false,"domainColor":"#777777","domainWidth":0.8,"labelFont":"Lato","labelFontSize":7.5,"labelColor":"#222222","labelPadding":6,"labelOverlap":false,"labelFlush":false,"labelBound":false,"title":"Chromosomal Coordinates","titleFont":"Lato","titleFontSize":10,"titleFontWeight":"normal","titleColor":"#222222","titlePadding":4}},
  "x2":{"field":"e"},
  "y":{"field":"B","type":"quantitative","scale":{"domain":[0,11.68],"nice":false,"zero":false},
   "axis":{"values":[0,1,2,3,4,5,6,7,8],"tickCount":40,"format":"d","grid":true,"gridDash":[1,2],"gridColor":"#999999","gridWidth":0.7,"domain":false,"tickSize":3,"tickColor":"#777777","labelFont":"Lato","labelFontSize":7,"labelColor":"#222222","labelPadding":3,"title":"-log₁₀(p)","titleFont":"Lato","titleFontSize":11,"titleFontWeight":"normal","titleColor":"#222222","titlePadding":3,"titleY":138}},
  "y2":{"datum":0},
  "color":{"field":"c","type":"ordinal","scale":{"domain":[1,2,3,4,5,6,7,8,9,10,11,12,13,14,15,16,17,18,19,20,21,22],"range":["#8a82c6","#1b1949","#8a82c6","#1b1949","#8a82c6","#1b1949","#8a82c6","#1b1949","#8a82c6","#1b1949","#8a82c6","#1b1949","#8a82c6","#1b1949","#8a82c6","#1b1949","#8a82c6","#1b1949","#8a82c6","#1b1949","#8a82c6","#1b1949"]},"legend":null},
  "stroke":{"field":"c","type":"ordinal","scale":{"domain":[1,2,3,4,5,6,7,8,9,10,11,12,13,14,15,16,17,18,19,20,21,22],"range":["#8a82c6","#1b1949","#8a82c6","#1b1949","#8a82c6","#1b1949","#8a82c6","#1b1949","#8a82c6","#1b1949","#8a82c6","#1b1949","#8a82c6","#1b1949","#8a82c6","#1b1949","#8a82c6","#1b1949","#8a82c6","#1b1949","#8a82c6","#1b1949"]},"legend":null}}},
{"data":{"name":"hits"},"transform":[{"filter":"datum.p == 'B'"}],"mark":{"type":"circle","size":6,"opacity":1},
 "encoding":{"x":{"field":"x","type":"quantitative"},"y":{"field":"v","type":"quantitative"},"color":{"field":"c","type":"ordinal","legend":null}}},
{"data":{"values":[{}]},"mark":{"type":"rule","stroke":"#777777","strokeWidth":0.8},"encoding":{"x":{"datum":0,"type":"quantitative"},"y":{"datum":0,"type":"quantitative"},"y2":{"datum":8}}},
{"data":{"values":[{}]},"mark":{"type":"rule","stroke":"#e0393b","strokeWidth":1.4},"encoding":{"y":{"datum":7.3,"type":"quantitative"}}}
]
},
{
"width":171,"height":192,"view":{"stroke":"#a6a6a6"},
"title":{"text":"OCA treated group","anchor":"start","frame":"group","dx":-500,"offset":26,"fontSize":14,"fontWeight":"normal","font":"Liberation Sans","color":"#111"},
"layer":[
{"data":{"name":"band"},"mark":{"type":"area","fill":"#cbcbcb","stroke":"#a0a0a0","strokeWidth":0.5},
 "encoding":{"x":{"field":"x","type":"quantitative","scale":{"domain":[0,7],"nice":false},"axis":{"values":[0,1,2,3,4,5,6,7],"tickCount":40,"format":"d","grid":true,"gridDash":[2,1.5],"gridColor":"#999999","gridWidth":0.6,"domainColor":"#999999","tickSize":2,"tickColor":"#999999","labelFontSize":6.5,"labelColor":"#333333","labelPadding":4,"labelFlush":false,"labelOverlap":false,"title":"Expected ordered -log₁₀(pvalue)","titleFontSize":6.5,"titleFontWeight":"normal","titleColor":"#333333","titlePadding":4}},
  "y":{"field":"lo","type":"quantitative","scale":{"domain":[0,9],"nice":false},"axis":{"values":[0,1,2,3,4,5,6,7,8,9],"tickCount":40,"format":"d","grid":true,"gridDash":[2,1.5],"gridColor":"#999999","gridWidth":0.6,"domainColor":"#999999","tickSize":2,"tickColor":"#999999","labelFontSize":6.5,"labelColor":"#333333","labelPadding":2,"labelFlush":false,"labelOverlap":false,"title":"Observed ordered -log₁₀(pvalue)","titleFontSize":6.5,"titleFontWeight":"normal","titleColor":"#333333","titlePadding":18}},
  "y2":{"field":"hi"}}},
{"data":{"name":"diag"},"mark":{"type":"line","color":"#7a7a7a","strokeWidth":0.8},"encoding":{"x":{"field":"x","type":"quantitative"},"y":{"field":"y","type":"quantitative"}}},
{"data":{"name":"qq"},"transform":[{"filter":"datum.p == 'B' && !datum.lab"}],"mark":{"type":"circle","color":"#2b7a2b","size":16,"opacity":1},"encoding":{"x":{"field":"x","type":"quantitative"},"y":{"field":"y","type":"quantitative"}}},
{"data":{"name":"qq"},"transform":[{"filter":"datum.p == 'B' && datum.lab"}],"mark":{"type":"circle","size":14,"opacity":1,"stroke":"#a9b5a9","strokeWidth":0.6},
 "encoding":{"x":{"field":"x","type":"quantitative"},"y":{"field":"y","type":"quantitative"},
  "color":{"field":"lab","type":"nominal","scale":{"range":["#dde4dd"]},"legend":{"orient":"none","legendX":26,"legendY":225,"titleOrient":"left","titleFontSize":6.5,"titleFontWeight":"normal","titleColor":"#333333","titlePadding":16,"labelExpr":"''","labelOffset":14,"symbolType":"circle","symbolSize":14,"symbolStrokeColor":"#a9b5a9","symbolStrokeWidth":0.6,"padding":1,"strokeColor":"#555555","fillColor":"white"},"title":"MAF [.05, .5] (5471721)"}}}
]
}
]
},
{
"spacing":33,"bounds":"flush",
"resolve":{"scale":{"color":"independent","stroke":"independent"},"legend":{"color":"independent"}},
"hconcat":[
{
"width":466,"height":217,
"title":{"text":"C","anchor":"start","frame":"group","dx":-27,"offset":22,"fontSize":14,"fontWeight":"bold","font":"Liberation Sans","color":"#111"},
"layer":[
{"data":{"name":"chr"},"mark":{"type":"rule","stroke":"#aaaaaa","strokeDash":[1,2],"strokeWidth":0.7},
 "encoding":{"x":{"field":"e","type":"quantitative"},"y":{"datum":0,"type":"quantitative"},"y2":{"datum":8}}},
{"data":{"name":"bins"},"mark":{"type":"rect","strokeWidth":0.4},
 "encoding":{
  "x":{"field":"s","type":"quantitative","scale":{"domain":[0,3034],"nice":false,"zero":false},
   "axis":{"values":[124.5,370.5,591,785.5,971.5,1147.5,1312.5,1465,1608.5,1747,1882.5,2017,2141.5,2252.5,2357.5,2454,2539.5,2619,2687.5,2748.5,2804,2853.5,2956.5],"tickCount":40,"labelExpr":"['1','2','3','4','5','6','7','8','9','10','11','12','13','14','15','16','17','18','19','20','21','22','X'][indexof([124.5,370.5,591,785.5,971.5,1147.5,1312.5,1465,1608.5,1747,1882.5,2017,2141.5,2252.5,2357.5,2454,2539.5,2619,2687.5,2748.5,2804,2853.5,2956.5], datum.value)]","grid":false,"ticks":false,"domainColor":"#777777","domainWidth":0.8,"labelFont":"Lato","labelFontSize":7.5,"labelColor":"#222222","labelPadding":6,"labelOverlap":false,"labelFlush":false,"labelBound":false,"title":"Chromosomal Coordinates","titleFont":"Lato","titleFontSize":10,"titleFontWeight":"normal","titleColor":"#222222","titlePadding":4}},
  "x2":{"field":"e"},
  "y":{"field":"C","type":"quantitative","scale":{"domain":[0,11.5],"nice":false,"zero":false},
   "axis":{"values":[0,1,2,3,4,5,6,7,8],"tickCount":40,"format":"d","grid":true,"gridDash":[1,2],"gridColor":"#999999","gridWidth":0.7,"domain":false,"tickSize":3,"tickColor":"#777777","labelFont":"Lato","labelFontSize":7,"labelColor":"#222222","labelPadding":3,"title":"-log₁₀(p)","titleFont":"Lato","titleFontSize":11,"titleFontWeight":"normal","titleColor":"#222222","titlePadding":3,"titleY":156}},
  "y2":{"datum":0},
  "color":{"field":"c","type":"ordinal","scale":{"domain":[1,2,3,4,5,6,7,8,9,10,11,12,13,14,15,16,17,18,19,20,21,22],"range":["#8a82c6","#1b1949","#8a82c6","#1b1949","#8a82c6","#1b1949","#8a82c6","#1b1949","#8a82c6","#1b1949","#8a82c6","#1b1949","#8a82c6","#1b1949","#8a82c6","#1b1949","#8a82c6","#1b1949","#8a82c6","#1b1949","#8a82c6","#1b1949"]},"legend":null},
  "stroke":{"field":"c","type":"ordinal","scale":{"domain":[1,2,3,4,5,6,7,8,9,10,11,12,13,14,15,16,17,18,19,20,21,22],"range":["#8a82c6","#1b1949","#8a82c6","#1b1949","#8a82c6","#1b1949","#8a82c6","#1b1949","#8a82c6","#1b1949","#8a82c6","#1b1949","#8a82c6","#1b1949","#8a82c6","#1b1949","#8a82c6","#1b1949","#8a82c6","#1b1949","#8a82c6","#1b1949"]},"legend":null}}},
{"data":{"name":"hits"},"transform":[{"filter":"datum.p == 'C'"}],"mark":{"type":"circle","size":6,"opacity":1},
 "encoding":{"x":{"field":"x","type":"quantitative"},"y":{"field":"v","type":"quantitative"},"color":{"field":"c","type":"ordinal","legend":null}}},
{"data":{"values":[{}]},"mark":{"type":"rule","stroke":"#777777","strokeWidth":0.8},"encoding":{"x":{"datum":0,"type":"quantitative"},"y":{"datum":0,"type":"quantitative"},"y2":{"datum":8}}},
{"data":{"values":[{}]},"mark":{"type":"rule","stroke":"#e0393b","strokeWidth":1.4},"encoding":{"y":{"datum":7.3,"type":"quantitative"}}}
]
},
{
"width":172,"height":192,"view":{"stroke":"#a6a6a6"},
"title":{"text":"Placebo treated group","anchor":"start","frame":"group","dx":-506,"offset":22,"fontSize":14,"fontWeight":"normal","font":"Liberation Sans","color":"#111"},
"layer":[
{"data":{"name":"band"},"mark":{"type":"area","fill":"#cbcbcb","stroke":"#a0a0a0","strokeWidth":0.5},
 "encoding":{"x":{"field":"x","type":"quantitative","scale":{"domain":[0,7],"nice":false},"axis":{"values":[0,1,2,3,4,5,6,7],"tickCount":40,"format":"d","grid":true,"gridDash":[2,1.5],"gridColor":"#999999","gridWidth":0.6,"domainColor":"#999999","tickSize":2,"tickColor":"#999999","labelFontSize":6.5,"labelColor":"#333333","labelPadding":4,"labelFlush":false,"labelOverlap":false,"title":"Expected ordered -log₁₀(pvalue)","titleFontSize":6.5,"titleFontWeight":"normal","titleColor":"#333333","titlePadding":4}},
  "y":{"field":"lo","type":"quantitative","scale":{"domain":[0,9],"nice":false},"axis":{"values":[0,1,2,3,4,5,6,7,8,9],"tickCount":40,"format":"d","grid":true,"gridDash":[2,1.5],"gridColor":"#999999","gridWidth":0.6,"domainColor":"#999999","tickSize":2,"tickColor":"#999999","labelFontSize":6.5,"labelColor":"#333333","labelPadding":2,"labelFlush":false,"labelOverlap":false,"title":"Observed ordered -log₁₀(pvalue)","titleFontSize":6.5,"titleFontWeight":"normal","titleColor":"#333333","titlePadding":18}},
  "y2":{"field":"hi"}}},
{"data":{"name":"diag"},"mark":{"type":"line","color":"#7a7a7a","strokeWidth":0.8},"encoding":{"x":{"field":"x","type":"quantitative"},"y":{"field":"y","type":"quantitative"}}},
{"data":{"name":"qq"},"transform":[{"filter":"datum.p == 'C' && !datum.lab"}],"mark":{"type":"circle","color":"#2b7a2b","size":16,"opacity":1},"encoding":{"x":{"field":"x","type":"quantitative"},"y":{"field":"y","type":"quantitative"}}},
{"data":{"name":"qq"},"transform":[{"filter":"datum.p == 'C' && datum.lab"}],"mark":{"type":"circle","size":14,"opacity":1,"stroke":"#a9b5a9","strokeWidth":0.6},
 "encoding":{"x":{"field":"x","type":"quantitative"},"y":{"field":"y","type":"quantitative"},
  "color":{"field":"lab","type":"nominal","scale":{"range":["#dde4dd"]},"legend":{"orient":"none","legendX":30,"legendY":235,"titleOrient":"left","titleFontSize":6.5,"titleFontWeight":"normal","titleColor":"#333333","titlePadding":16,"labelExpr":"''","labelOffset":14,"symbolType":"circle","symbolSize":14,"symbolStrokeColor":"#a9b5a9","symbolStrokeWidth":0.6,"padding":1,"strokeColor":"#555555","fillColor":"white"},"title":"MAF [.05, .5] (5465658)"}}}
]
}
]
}
]
}
]
}
